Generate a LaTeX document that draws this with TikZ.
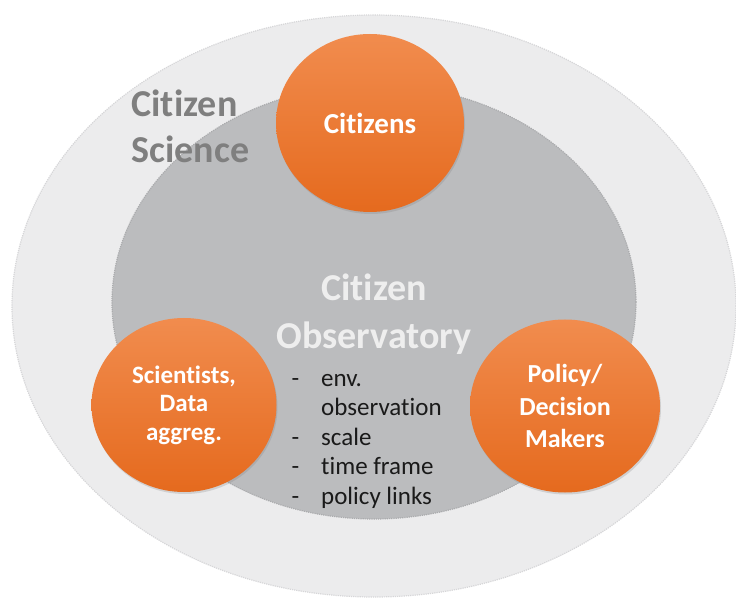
\documentclass[tikz,border=0pt]{standalone}
\usepackage{fontspec}
\setmainfont{Carlito}[Ligatures=CommonOff]
\usetikzlibrary{shadows,shapes.geometric}

\definecolor{outergrey}{RGB}{236,236,237}
\definecolor{outeredge}{RGB}{214,214,216}
\definecolor{innergrey}{RGB}{187,188,190}
\definecolor{inneredge}{RGB}{170,171,173}
\definecolor{orangetop}{RGB}{241,140,78}
\definecolor{orangebot}{RGB}{229,106,30}
\definecolor{sciencegrey}{RGB}{127,127,127}
\definecolor{obswhite}{RGB}{238,238,238}
\definecolor{listblack}{RGB}{26,26,26}

\tikzset{
  actor/.style={ellipse, inner sep=0pt, top color=orangetop, bottom color=orangebot,
    drop shadow={opacity=0.25, shadow xshift=1pt, shadow yshift=-2pt},
    text=white, align=center, font=\bfseries\fontsize{27}{32}\selectfont},
  bigtitle/.style={align=center, font=\bfseries\fontsize{38}{48}\selectfont}
}

\begin{document}
\begin{tikzpicture}[x=1pt, y=-1pt]
  \useasboundingbox (0,0) rectangle (736,601);
  \fill[white] (0,0) rectangle (736,601);

  % the two fields
  \draw[fill=outergrey, draw=outeredge, densely dotted, line width=1.2pt]
    (374,306) ellipse [x radius=362pt, y radius=291pt];
  \draw[fill=innergrey, draw=inneredge, densely dotted, line width=1.2pt]
    (374,302) ellipse [x radius=262pt, y radius=217pt];

  \node[bigtitle, text=sciencegrey, align=left, anchor=north west,
    font=\bfseries\fontsize{38}{46}\selectfont] (science) at (128,86) {Citizen\\Science};
  \node[bigtitle, text=obswhite] (observatory) at (374,314) {Citizen\\Observatory};

  % the three actors
  \node[actor, minimum width=188pt, minimum height=178pt,
    font=\bfseries\fontsize{29}{32}\selectfont] (citizens) at (370,123) {Citizens};
  \node[actor, minimum width=185pt, minimum height=174pt,
    font=\bfseries\fontsize{25}{28.5}\selectfont] (scientists) at (184,405) {Scientists,\\Data\\aggreg.};
  \node[actor, minimum width=190pt, minimum height=173pt,
    font=\bfseries\fontsize{26}{32.5}\selectfont] (policy) at (565,406) {Policy/\\Decision\\Makers};

  \node[anchor=north west, text=listblack, font=\fontsize{25}{29.5}\selectfont] (aspects) at (288,362)
    {\begin{tabular}{@{}l@{\hspace{22pt}}l@{}}
      - & env.\\
        & observation\\
      - & scale\\
      - & time frame\\
      - & policy links
    \end{tabular}};
\end{tikzpicture}
\end{document}
